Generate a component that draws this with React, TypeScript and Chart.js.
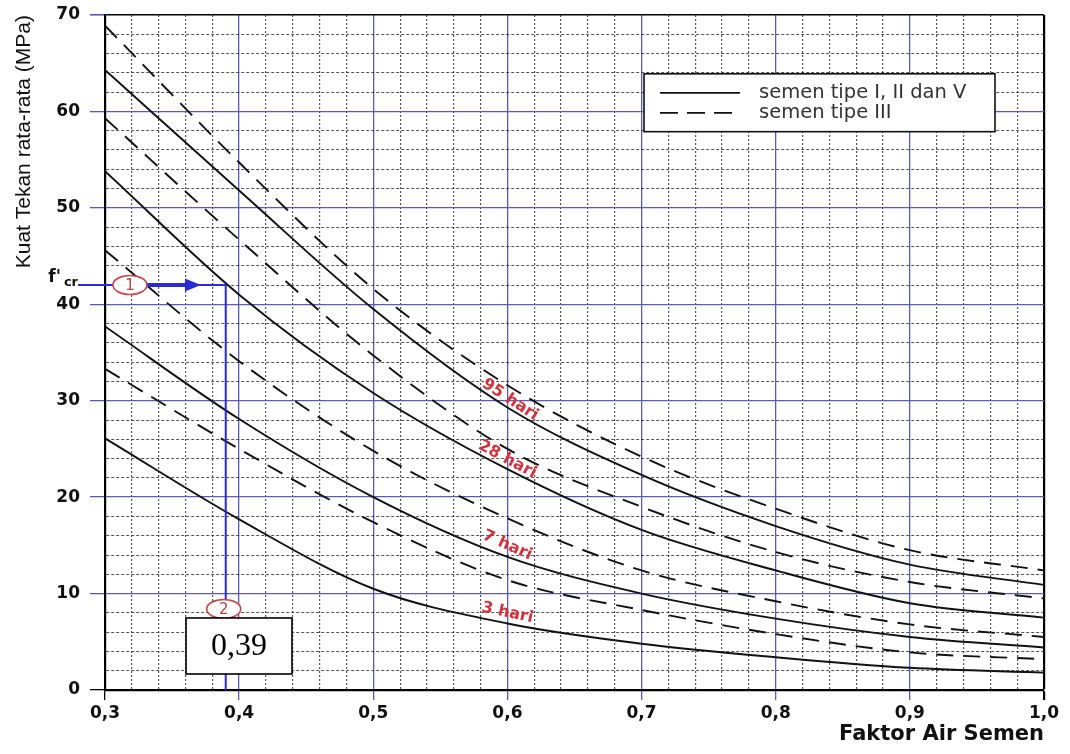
import React, { useEffect, useRef } from "react";
import { Chart, registerables } from "chart.js";

Chart.register(...registerables);

// ---------- data ----------
const faktorAirSemen = [0.3, 0.4, 0.5, 0.6, 0.7, 0.8, 0.9, 1.0];
const tipeI_95hari = [64.3, 51.8, 39.5, 29.3, 22.3, 17.0, 13.0, 10.9];
const tipeIII_95hari = [68.9, 54.7, 41.6, 31.6, 24.2, 18.8, 14.5, 12.4];
const tipeI_28hari = [53.8, 41.0, 30.8, 22.9, 16.6, 12.4, 9.0, 7.5];
const tipeIII_28hari = [59.3, 46.7, 34.7, 25.0, 19.0, 14.3, 11.2, 9.5];
const tipeI_7hari = [37.7, 28.1, 20.0, 13.8, 10.0, 7.4, 5.5, 4.4];
const tipeIII_7hari = [45.6, 34.1, 24.8, 17.8, 12.4, 9.2, 6.8, 5.5];
const tipeI_3hari = [26.1, 17.7, 10.5, 6.9, 4.8, 3.4, 2.3, 1.8];
const tipeIII_3hari = [33.3, 25.0, 17.4, 11.4, 8.3, 5.8, 3.9, 3.2];

const xMajorTicks = [0.3, 0.4, 0.5, 0.6, 0.7, 0.8, 0.9, 1.0];
const xTickLabels = ["0,3", "0,4", "0,5", "0,6", "0,7", "0,8", "0,9", "1,0"];
const yMajorTicks = [0, 10, 20, 30, 40, 50, 60, 70];
const yTickLabels = ["0", "10", "20", "30", "40", "50", "60", "70"];
const xMinorStep = 0.02;
const yMinorStep = 2;

const curveLabels = ["95 hari", "28 hari", "7 hari", "3 hari"];
const curveLabelX = [0.602, 0.6, 0.6, 0.6];
const curveLabelY = [30.1, 23.9, 15.0, 8.0];

const fcrValue = 42;
const fasValue = 0.39;
const fasLabel = "0,39";

const legendLabels = ["semen tipe I, II dan V", "semen tipe III"];

// ---------- helpers ----------
const xGrid: number[] = [];
for (let i = 0; i <= Math.round((1.0 - 0.3) / xMinorStep); i++) xGrid.push(Math.round((0.3 + i * xMinorStep) * 1000) / 1000);
const yGrid: number[] = [];
for (let v = 0; v <= 70; v += yMinorStep) yGrid.push(v);

const near = (a: number, b: number) => Math.abs(a - b) < 1e-6;
const isMajorX = (v: number) => xMajorTicks.some((m) => near(m, v));
const isMajorY = (v: number) => yMajorTicks.some((m) => near(m, v));

const GRID_BLUE = "#5a5ab8";
const ANNO_BLUE = "#2a2ad6";
const MINOR = "rgba(30,30,30,0.75)";
const RED = "#d2323c";

const TICK_FONT = { family: "'DejaVu Sans', sans-serif", weight: "bold" as const, size: 17 };

const annotationPlugin = {
  id: "annotations",
  afterDatasetsDraw(chart: any) {
    const { ctx, chartArea } = chart;
    const xs = chart.scales.x;
    const ys = chart.scales.y;
    const px = (v: number) => xs.getPixelForValue(v);
    const py = (v: number) => ys.getPixelForValue(v);
    ctx.save();

    // curve labels
    const angles = [33, 28, 24, 12];
    ctx.fillStyle = RED;
    ctx.font = "bold 16px 'DejaVu Sans', sans-serif";
    ctx.textAlign = "center";
    ctx.textBaseline = "middle";
    curveLabels.forEach((t, i) => {
      ctx.save();
      ctx.translate(px(curveLabelX[i]), py(curveLabelY[i]));
      ctx.rotate((angles[i] * Math.PI) / 180);
      ctx.fillText(t, 0, 0);
      ctx.restore();
    });

    // f'cr guide lines
    const yF = py(fcrValue);
    const xF = px(fasValue);
    ctx.strokeStyle = ANNO_BLUE;
    ctx.lineWidth = 2;
    ctx.beginPath();
    ctx.moveTo(chartArea.left - 27, yF);
    ctx.lineTo(xF, yF);
    ctx.lineTo(xF, chartArea.bottom);
    ctx.stroke();

    // arrow
    const c1x = px(0.3186);
    const tip = px(0.3715);
    ctx.lineWidth = 4;
    ctx.beginPath();
    ctx.moveTo(c1x + 16, yF);
    ctx.lineTo(tip - 12, yF);
    ctx.stroke();
    ctx.fillStyle = ANNO_BLUE;
    ctx.beginPath();
    ctx.moveTo(tip, yF);
    ctx.lineTo(tip - 16, yF - 6.5);
    ctx.lineTo(tip - 16, yF + 6.5);
    ctx.closePath();
    ctx.fill();

    // circle markers
    const drawCircle = (cx: number, cy: number, label: string) => {
      ctx.beginPath();
      ctx.ellipse(cx, cy, 17, 9.5, 0, 0, Math.PI * 2);
      ctx.fillStyle = "#ffffff";
      ctx.fill();
      ctx.lineWidth = 1.6;
      ctx.strokeStyle = "#c44848";
      ctx.stroke();
      ctx.fillStyle = "#b04545";
      ctx.font = "15px 'DejaVu Sans', sans-serif";
      ctx.textAlign = "center";
      ctx.textBaseline = "middle";
      ctx.fillText(label, cx, cy + 1);
    };
    drawCircle(c1x, yF, "1");
    drawCircle(xF - 2, py(8.4), "2");

    // value box
    const bx0 = px(0.3604);
    const bx1 = px(0.4394);
    const by0 = py(7.47);
    const by1 = py(1.66);
    ctx.fillStyle = "#ffffff";
    ctx.fillRect(bx0, by0, bx1 - bx0, by1 - by0);
    ctx.lineWidth = 1.6;
    ctx.strokeStyle = "#000";
    ctx.strokeRect(bx0, by0, bx1 - bx0, by1 - by0);
    ctx.fillStyle = "#000";
    ctx.font = "32px 'Liberation Serif', 'Times New Roman', serif";
    ctx.textAlign = "center";
    ctx.textBaseline = "middle";
    ctx.fillText(fasLabel, (bx0 + bx1) / 2, (by0 + by1) / 2 + 1);

    // f'cr label
    ctx.fillStyle = "#111";
    ctx.textAlign = "right";
    ctx.textBaseline = "alphabetic";
    ctx.font = "bold 13px 'DejaVu Sans', sans-serif";
    const crRight = chartArea.left - 27;
    ctx.fillText("cr", crRight, yF + 1);
    const crW = ctx.measureText("cr").width;
    ctx.font = "bold 17px 'DejaVu Sans', sans-serif";
    ctx.fillText("f'", crRight - crW - 3, yF - 3);

    // legend
    const lx0 = chartArea.right - 400;
    const lx1 = chartArea.right - 49;
    const ly0 = py(63.9);
    const ly1 = py(57.9);
    ctx.fillStyle = "#ffffff";
    ctx.fillRect(lx0, ly0, lx1 - lx0, ly1 - ly0);
    ctx.lineWidth = 1.6;
    ctx.strokeStyle = "#111";
    ctx.strokeRect(lx0, ly0, lx1 - lx0, ly1 - ly0);
    const row1 = ly0 + 19;
    const row2 = ly0 + 39;
    ctx.lineWidth = 1.7;
    ctx.beginPath();
    ctx.moveTo(lx0 + 16, row1);
    ctx.lineTo(lx0 + 96, row1);
    ctx.stroke();
    ctx.setLineDash([18, 9]);
    ctx.beginPath();
    ctx.moveTo(lx0 + 16, row2);
    ctx.lineTo(lx0 + 88, row2);
    ctx.stroke();
    ctx.setLineDash([]);
    ctx.fillStyle = "#333";
    ctx.font = "19.5px 'DejaVu Sans', sans-serif";
    ctx.textAlign = "left";
    ctx.textBaseline = "middle";
    ctx.fillText(legendLabels[0], lx0 + 115, row1);
    ctx.fillText(legendLabels[1], lx0 + 115, row2);

    ctx.restore();
  },
};

const mk = (label: string, data: number[], dashed: boolean) => ({
  label,
  data: faktorAirSemen.map((x, i) => ({ x, y: data[i] })),
  borderColor: "#111",
  borderWidth: 1.9,
  borderDash: dashed ? [17, 10] : [],
  pointRadius: 0,
  fill: false,
  cubicInterpolationMode: "monotone" as const,
});

export default function App() {
  const ref = useRef<HTMLCanvasElement | null>(null);
  useEffect(() => {
    if (!ref.current) return;
    const chart = new Chart(ref.current, {
      type: "line",
      data: {
        datasets: [
          mk("95 hari tipe III", tipeIII_95hari, true),
          mk("95 hari tipe I", tipeI_95hari, false),
          mk("28 hari tipe III", tipeIII_28hari, true),
          mk("28 hari tipe I", tipeI_28hari, false),
          mk("7 hari tipe III", tipeIII_7hari, true),
          mk("7 hari tipe I", tipeI_7hari, false),
          mk("3 hari tipe III", tipeIII_3hari, true),
          mk("3 hari tipe I", tipeI_3hari, false),
        ],
      },
      options: {
        animation: false,
        responsive: false,
        devicePixelRatio: 1,
        layout: { padding: { left: 0, right: 26, top: 15, bottom: 0 } },
        plugins: { legend: { display: false }, tooltip: { enabled: false } },
        scales: {
          x: {
            type: "linear",
            min: 0.3,
            max: 1.0,
            afterBuildTicks: (s: any) => {
              s.ticks = xGrid.map((v) => ({ value: v }));
            },
            afterFit: (s: any) => {
              s.height = 64;
              s.paddingLeft = 0;
              s.paddingRight = 0;
            },
            ticks: {
              autoSkip: false,
              maxRotation: 0,
              padding: 3,
              color: "#111",
              font: TICK_FONT,
              callback: (v: any) => {
                const i = xMajorTicks.findIndex((m) => near(m, Number(v)));
                return i >= 0 ? xTickLabels[i] : "";
              },
            },
            grid: {
              color: (c: any) => {
                const v = c.tick ? c.tick.value : 0;
                if (near(v, 1.0)) return "#000";
                return isMajorX(v) ? GRID_BLUE : MINOR;
              },
              lineWidth: (c: any) => {
                const v = c.tick ? c.tick.value : 0;
                if (near(v, 1.0)) return 2.2;
                return isMajorX(v) ? 1.3 : 1.2;
              },
              tickColor: (c: any) => {
                const v = c.tick ? c.tick.value : 0;
                if (near(v, 1.0) || near(v, 0.3)) return "#000";
                return isMajorX(v) ? GRID_BLUE : "rgba(0,0,0,0)";
              },
              tickLength: 10,
            },
            border: {
              display: true,
              color: "#000",
              width: 2.2,
              dash: (c: any) => (c.tick && !isMajorX(c.tick.value) ? [2, 2] : []),
            },
            title: {
              display: true,
              text: "Faktor Air Semen",
              align: "end",
              color: "#111",
              font: { family: "'DejaVu Sans', sans-serif", weight: "bold", size: 21 },
              padding: { top: 0, bottom: 7 },
            },
          },
          y: {
            type: "linear",
            min: 0,
            max: 70,
            afterBuildTicks: (s: any) => {
              s.ticks = yGrid.map((v) => ({ value: v }));
            },
            afterFit: (s: any) => {
              s.width = 105;
              s.paddingTop = 0;
              s.paddingBottom = 0;
            },
            ticks: {
              autoSkip: false,
              padding: 10,
              color: "#111",
              font: TICK_FONT,
              callback: (v: any) => {
                const i = yMajorTicks.findIndex((m) => near(m, Number(v)));
                return i >= 0 ? yTickLabels[i] : "";
              },
            },
            grid: {
              color: (c: any) => {
                const v = c.tick ? c.tick.value : 0;
                if (near(v, 70)) return "#000";
                return isMajorY(v) ? GRID_BLUE : MINOR;
              },
              lineWidth: (c: any) => {
                const v = c.tick ? c.tick.value : 0;
                if (near(v, 70)) return 1.6;
                return isMajorY(v) ? 1.3 : 1;
              },
              tickColor: (c: any) => {
                const v = c.tick ? c.tick.value : 0;
                if (near(v, 0)) return "#000";
                return isMajorY(v) ? GRID_BLUE : "rgba(0,0,0,0)";
              },
              tickLength: 15,
            },
            border: {
              display: true,
              color: "#000",
              width: 2.2,
              dash: (c: any) => (c.tick && !isMajorY(c.tick.value) ? [3, 2] : []),
            },
            title: {
              display: true,
              text: "Kuat Tekan rata-rata (MPa)",
              align: "end",
              color: "#111",
              font: { family: "'Liberation Sans', Arial, sans-serif", size: 21 },
              padding: { top: 12, bottom: 0 },
            },
          },
        },
      },
      plugins: [annotationPlugin],
    });
    return () => chart.destroy();
  }, []);

  return (
    <div style={{ position: "fixed", left: 0, top: 0, width: 1070, height: 754, background: "#fff" }}>
      <canvas ref={ref} width={1070} height={754} style={{ display: "block" }} />
    </div>
  );
}
